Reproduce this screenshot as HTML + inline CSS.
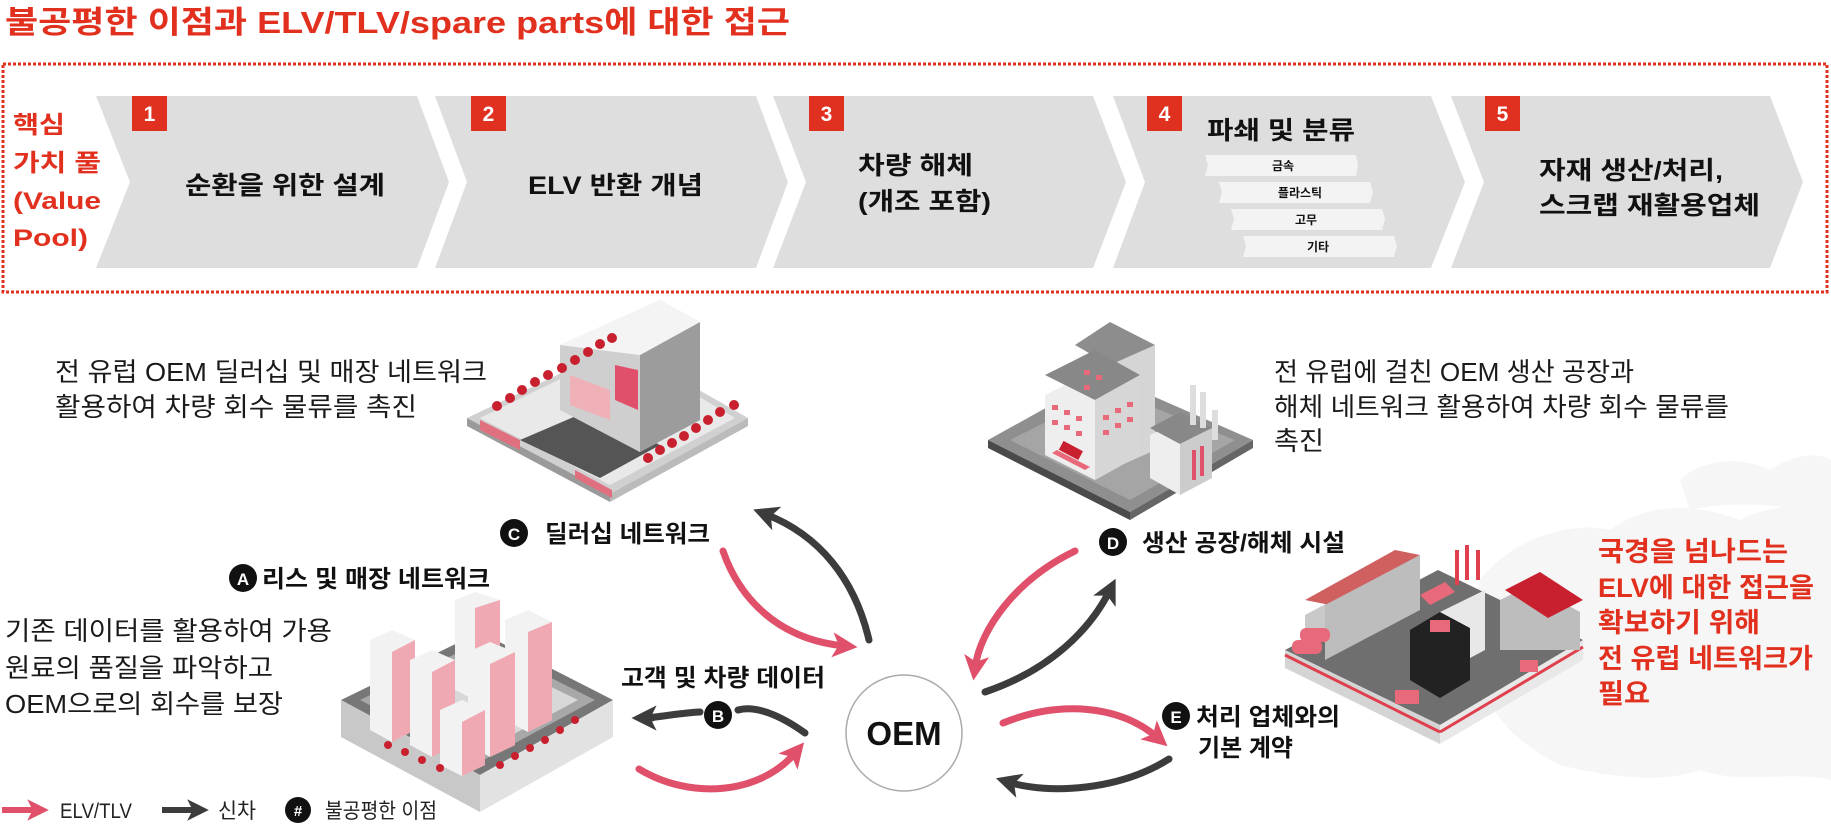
<!DOCTYPE html>
<html><head><meta charset="utf-8">
<style>
html,body{margin:0;padding:0;background:#fff;}
svg{display:block;}
text{font-family:"Liberation Sans","Noto Sans CJK KR",sans-serif;}
.b{font-weight:bold;}
</style></head>
<body>
<svg width="1831" height="835" viewBox="0 0 1831 835" xmlns="http://www.w3.org/2000/svg">
<defs>
<marker id="mp" viewBox="0 0 10 10" refX="5" refY="5" markerWidth="3.6" markerHeight="3.6" orient="auto" markerUnits="strokeWidth"><path d="M0,0 L10,5 L0,10 L2.5,5 z" fill="#e0506a"/></marker>
<marker id="md" viewBox="0 0 10 10" refX="5" refY="5" markerWidth="3.6" markerHeight="3.6" orient="auto" markerUnits="strokeWidth"><path d="M0,0 L10,5 L0,10 L2.5,5 z" fill="#3c3c3c"/></marker>
</defs>

<!-- Title -->
<text x="5" y="33" class="b" font-size="31" fill="#e2301f" textLength="785" lengthAdjust="spacingAndGlyphs">불공평한 이점과 ELV/TLV/spare parts에 대한 접근</text>

<!-- dotted box -->
<rect x="3" y="64" width="1824" height="228" fill="none" stroke="#e2301f" stroke-width="3" stroke-dasharray="3,2"/>

<!-- left label -->
<g class="b" font-size="24" fill="#e2301f">
<text x="13" y="133" textLength="52" lengthAdjust="spacingAndGlyphs">핵심</text>
<text x="13" y="171" textLength="88" lengthAdjust="spacingAndGlyphs">가치 풀</text>
<text x="13" y="209" textLength="88" lengthAdjust="spacingAndGlyphs">(Value</text>
<text x="13" y="246" textLength="75" lengthAdjust="spacingAndGlyphs">Pool)</text>
</g>

<!-- chevrons -->
<g fill="#dedede">
<polygon points="96,96 417,96 449,182 417,268 96,268 130,182"/>
<polygon points="435,96 756,96 788,182 756,268 435,268 467,182"/>
<polygon points="773,96 1093,96 1126,182 1093,268 773,268 806,182"/>
<polygon points="1113,96 1431,96 1465,182 1431,268 1113,268 1145,182"/>
<polygon points="1451,96 1770,96 1803,182 1770,268 1451,268 1484,182"/>
</g>
<g fill="#e03020">
<rect x="132" y="96" width="35" height="35"/>
<rect x="471" y="96" width="35" height="35"/>
<rect x="809" y="96" width="35" height="35"/>
<rect x="1147" y="96" width="35" height="35"/>
<rect x="1485" y="96" width="35" height="35"/>
</g>
<g class="b" font-size="21" fill="#fff" text-anchor="middle">
<text x="149.5" y="121">1</text><text x="488.5" y="121">2</text><text x="826.5" y="121">3</text><text x="1164.5" y="121">4</text><text x="1502.5" y="121">5</text>
</g>
<g class="b" font-size="25" fill="#111">
<text x="185" y="194" textLength="200" lengthAdjust="spacingAndGlyphs">순환을 위한 설계</text>
<text x="528" y="194" textLength="175" lengthAdjust="spacingAndGlyphs">ELV 반환 개념</text>
<text x="858" y="174" textLength="115" lengthAdjust="spacingAndGlyphs">차량 해체</text>
<text x="858" y="210" textLength="133" lengthAdjust="spacingAndGlyphs">(개조 포함)</text>
<text x="1207" y="139" textLength="148" lengthAdjust="spacingAndGlyphs">파쇄 및 분류</text>
<text x="1539" y="179" textLength="184" lengthAdjust="spacingAndGlyphs">자재 생산/처리,</text>
<text x="1539" y="214" textLength="221" lengthAdjust="spacingAndGlyphs">스크랩 재활용업체</text>
</g>
<g fill="#f3f3f3">
<polygon points="1205,155 1356,155 1358,165 1356,176 1205,176 1208,165"/>
<polygon points="1219,182 1370,182 1373,192 1370,203 1219,203 1222,192"/>
<polygon points="1231,209 1382,209 1385,219 1382,230 1231,230 1234,219"/>
<polygon points="1243,236 1394,236 1397,246 1394,257 1243,257 1246,246"/>
</g>
<g class="b" font-size="12" fill="#111" text-anchor="middle">
<text x="1283" y="170">금속</text><text x="1300" y="197">플라스틱</text><text x="1306" y="224">고무</text><text x="1318" y="251">기타</text>
</g>

<!-- europe map faint -->
<g fill="#f6f6f6">
<path d="M1480,580 C1510,540 1570,520 1610,530 C1650,500 1700,505 1740,520 C1780,500 1820,505 1831,515 L1831,780 C1790,770 1740,785 1700,770 C1660,785 1600,775 1560,765 C1520,745 1495,720 1485,690 C1475,650 1470,610 1480,580 z"/>
<path d="M1680,480 C1700,460 1740,455 1770,470 C1800,450 1825,455 1831,460 L1831,515 C1790,505 1730,500 1690,510 z"/>
</g>

<!-- top-left text -->
<g font-size="26" fill="#1a1a1a">
<text x="55" y="381" textLength="432" lengthAdjust="spacingAndGlyphs">전 유럽 OEM 딜러십 및 매장 네트워크</text>
<text x="55" y="416" textLength="362" lengthAdjust="spacingAndGlyphs">활용하여 차량 회수 물류를 촉진</text>
<text x="1274" y="381" textLength="360" lengthAdjust="spacingAndGlyphs">전 유럽에 걸친 OEM 생산 공장과</text>
<text x="1274" y="416" textLength="455" lengthAdjust="spacingAndGlyphs">해체 네트워크 활용하여 차량 회수 물류를</text>
<text x="1274" y="450" textLength="50" lengthAdjust="spacingAndGlyphs">촉진</text>
<text x="5" y="640" textLength="327" lengthAdjust="spacingAndGlyphs">기존 데이터를 활용하여 가용</text>
<text x="5" y="677" textLength="268" lengthAdjust="spacingAndGlyphs">원료의 품질을 파악하고</text>
<text x="5" y="713" textLength="278" lengthAdjust="spacingAndGlyphs">OEM으로의 회수를 보장</text>
</g>

<!-- red right text -->
<g class="b" font-size="27" fill="#e2301f">
<text x="1598" y="561" textLength="190" lengthAdjust="spacingAndGlyphs">국경을 넘나드는</text>
<text x="1598" y="597" textLength="216" lengthAdjust="spacingAndGlyphs">ELV에 대한 접근을</text>
<text x="1598" y="632" textLength="162" lengthAdjust="spacingAndGlyphs">확보하기 위해</text>
<text x="1598" y="668" textLength="215" lengthAdjust="spacingAndGlyphs">전 유럽 네트워크가</text>
<text x="1598" y="703" textLength="52" lengthAdjust="spacingAndGlyphs">필요</text>
</g>

<!-- Dealer illustration -->
<g>
<polygon points="467,418 620,345 748,418 610,494" fill="#d0d0d0"/>
<polygon points="467,418 610,494 610,502 467,426" fill="#9a9a9a"/>
<polygon points="610,494 748,418 748,426 610,502" fill="#bbb"/>
<polygon points="480,418 620,350 735,418 610,485" fill="#e9e9e9"/>
<polygon points="520,440 590,410 660,445 600,478" fill="#555"/>
<polygon points="560,345 660,300 700,322 700,420 640,452 560,410" fill="#e2e2e2"/>
<polygon points="640,355 700,322 700,420 640,452" fill="#9c9c9c"/>
<polygon points="560,345 640,355 640,452 560,410" fill="#cfcfcf"/>
<polygon points="560,345 660,300 700,322 640,355" fill="#f4f4f4"/>
<polygon points="615,365 638,370 638,410 615,400" fill="#e0506a"/>
<polygon points="570,375 610,390 610,420 570,405" fill="#f0b0b8"/>
<g fill="#c8202e">
<circle cx="612" cy="338" r="5"/><circle cx="600" cy="344" r="5"/><circle cx="588" cy="352" r="5"/><circle cx="575" cy="360" r="5"/><circle cx="562" cy="368" r="5"/><circle cx="548" cy="375" r="5"/><circle cx="535" cy="382" r="5"/><circle cx="522" cy="390" r="5"/><circle cx="510" cy="398" r="5"/><circle cx="497" cy="406" r="5"/>
<circle cx="648" cy="458" r="5"/><circle cx="660" cy="450" r="5"/><circle cx="672" cy="443" r="5"/><circle cx="684" cy="436" r="5"/><circle cx="696" cy="428" r="5"/><circle cx="708" cy="420" r="5"/><circle cx="720" cy="412" r="5"/><circle cx="734" cy="405" r="5"/>
</g>
<polygon points="480,420 520,440 520,450 480,430" fill="#e07080"/>
<polygon points="575,470 612,490 612,498 575,478" fill="#e07080"/>
</g>

<!-- Factory illustration -->
<g>
<polygon points="988,440 1105,375 1253,440 1130,512" fill="#8f8f8f"/>
<polygon points="988,440 1130,512 1130,520 988,448" fill="#4a4a4a"/>
<polygon points="1130,512 1253,440 1253,448 1130,520" fill="#666"/>
<polygon points="1010,440 1110,390 1235,440 1130,500" fill="#a5a5a5"/>
<polygon points="1075,360 1110,340 1155,360 1155,450 1110,470 1075,450" fill="#ebebeb"/>
<polygon points="1110,362 1155,345 1155,450 1110,470" fill="#d5d5d5"/>
<polygon points="1075,345 1110,322 1155,345 1110,365" fill="#8d8d8d"/>
<polygon points="1045,395 1095,370 1140,395 1140,455 1095,480 1045,455" fill="#eee"/>
<polygon points="1045,375 1095,350 1140,375 1095,400" fill="#888"/>
<polygon points="1095,400 1140,375 1140,455 1095,480" fill="#d6d6d6"/>
<g fill="#e86a7a">
<rect x="1052" y="405" width="6" height="5"/><rect x="1064" y="410" width="6" height="5"/><rect x="1076" y="416" width="6" height="5"/>
<rect x="1052" y="420" width="6" height="5"/><rect x="1064" y="425" width="6" height="5"/><rect x="1076" y="431" width="6" height="5"/>
<rect x="1084" y="370" width="6" height="5"/><rect x="1096" y="375" width="6" height="5"/><rect x="1084" y="385" width="6" height="5"/>
<rect x="1103" y="415" width="6" height="5"/><rect x="1115" y="408" width="6" height="5"/><rect x="1127" y="402" width="6" height="5"/>
<rect x="1103" y="430" width="6" height="5"/><rect x="1115" y="423" width="6" height="5"/><rect x="1127" y="417" width="6" height="5"/>
</g>
<polygon points="1150,435 1180,420 1212,435 1212,478 1180,495 1150,478" fill="#eee"/>
<polygon points="1150,428 1180,412 1212,428 1180,444" fill="#888"/>
<polygon points="1180,444 1212,428 1212,478 1180,495" fill="#ccc"/>
<rect x="1192" y="450" width="4" height="30" fill="#e0506a"/><rect x="1200" y="446" width="4" height="30" fill="#e0506a"/>
<rect x="1190" y="385" width="6" height="40" fill="#ddd"/><rect x="1200" y="392" width="6" height="36" fill="#ddd"/><rect x="1212" y="410" width="6" height="30" fill="#ddd"/>
<polygon points="1057,450 1090,467 1085,470 1052,453" fill="#e86a7a"/>
<rect x="1060" y="445" width="22" height="10" fill="#c8202e" transform="rotate(28 1070 450)"/>
</g>

<!-- City illustration -->
<g>
<polygon points="341,700 480,632 613,700 480,775" fill="#777"/>
<polygon points="341,700 480,775 480,812 341,737" fill="#c8c8c8"/>
<polygon points="480,775 613,700 613,737 480,812" fill="#e2e2e2"/>
<polygon points="360,700 480,642 595,700 480,762" fill="#a8a8a8"/>
<polygon points="378,700 480,652 578,700 480,752" fill="#d8d8d8"/>
<g>
<polygon points="455,600 475,592 500,600 500,690 475,700 455,690" fill="#f2f2f2"/><polygon points="475,608 500,600 500,690 475,700" fill="#f0a8b2"/>
<polygon points="505,620 528,610 552,622 552,720 528,732 505,720" fill="#f2f2f2"/><polygon points="528,632 552,622 552,720 528,732" fill="#f0a8b2"/>
<polygon points="370,640 392,630 415,640 415,730 392,742 370,730" fill="#f2f2f2"/><polygon points="392,652 415,640 415,730 392,742" fill="#f0a8b2"/>
<polygon points="410,660 432,650 455,660 455,745 432,757 410,745" fill="#f2f2f2"/><polygon points="432,672 455,660 455,745 432,757" fill="#f0a8b2"/>
<polygon points="468,652 490,642 515,652 515,745 490,757 468,745" fill="#f2f2f2"/><polygon points="490,664 515,652 515,745 490,757" fill="#f0a8b2"/>
<polygon points="440,710 462,700 485,710 485,765 462,776 440,765" fill="#f2f2f2"/><polygon points="462,722 485,710 485,765 462,776" fill="#f0a8b2"/>
</g>
<g fill="#c8202e">
<circle cx="388" cy="745" r="4"/><circle cx="405" cy="752" r="4"/><circle cx="422" cy="760" r="4"/><circle cx="440" cy="768" r="4"/><circle cx="500" cy="765" r="4"/><circle cx="515" cy="756" r="4"/><circle cx="530" cy="748" r="4"/><circle cx="545" cy="740" r="4"/><circle cx="560" cy="730" r="4"/><circle cx="575" cy="720" r="4"/>
</g>
</g>

<!-- Recycling illustration -->
<g>
<polygon points="1285,650 1438,570 1583,640 1440,725" fill="#6f6f6f"/>
<polygon points="1285,650 1440,725 1440,744 1285,668" fill="#d4d4d4"/>
<polygon points="1440,725 1583,640 1583,660 1440,744" fill="#e8e8e8"/>
<line x1="1285" y1="655" x2="1440" y2="732" stroke="#e0404e" stroke-width="3"/>
<line x1="1440" y1="732" x2="1583" y2="647" stroke="#e0404e" stroke-width="3"/>
<polygon points="1305,615 1395,567 1395,590 1320,635 1305,630" fill="#c9c9c9"/>
<polygon points="1305,600 1395,550 1420,555 1330,605" fill="#d06060"/>
<polygon points="1325,605 1420,555 1420,610 1325,660" fill="#bdbdbd"/>
<polygon points="1410,630 1440,612 1470,628 1470,680 1440,698 1410,680" fill="#222"/>
<polygon points="1440,612 1485,590 1485,650 1470,658 1470,628" fill="#e8e8e8"/>
<polygon points="1500,600 1530,585 1580,612 1580,650 1500,650" fill="#bdbdbd"/>
<polygon points="1505,590 1540,572 1583,600 1548,618" fill="#c8202e"/>
<rect x="1455" y="550" width="4" height="35" fill="#e0404e"/><rect x="1465" y="545" width="4" height="35" fill="#e0404e"/><rect x="1476" y="550" width="4" height="30" fill="#e0404e"/>
<g fill="#e86a7a">
<rect x="1292" y="640" width="30" height="14" rx="6"/><rect x="1300" y="628" width="30" height="14" rx="6"/>
<rect x="1395" y="690" width="24" height="14"/><rect x="1430" y="620" width="20" height="12"/><rect x="1520" y="660" width="18" height="12"/>
<polygon points="1420,595 1445,582 1455,592 1430,605"/>
</g>
</g>

<!-- Arrows -->
<g fill="none" stroke-width="7" stroke-linecap="round">
<path d="M723,551 C740,600 780,640 845,646" stroke="#e0506a" marker-end="url(#mp)"/>
<path d="M869,640 C855,580 820,535 765,514" stroke="#3c3c3c" marker-end="url(#md)"/>
<path d="M805,733 C780,715 755,705 738,710 M700,712 C680,713 660,717 645,718" stroke="#3c3c3c"/>
<path d="M652,718 L644,718" stroke="#3c3c3c" marker-end="url(#md)"/>
<path d="M639,769 C690,800 760,795 796,752" stroke="#e0506a" marker-end="url(#mp)"/>
<path d="M1075,551 C1015,580 980,630 975,668" stroke="#e0506a" marker-end="url(#mp)"/>
<path d="M985,692 C1050,670 1090,630 1110,590" stroke="#3c3c3c" marker-end="url(#md)"/>
<path d="M1003,723 C1060,700 1120,705 1158,738" stroke="#e0506a" marker-end="url(#mp)"/>
<path d="M1169,759 C1120,790 1050,795 1008,782" stroke="#3c3c3c" marker-end="url(#md)"/>
</g>

<!-- OEM circle -->
<circle cx="904" cy="733" r="58" fill="#fff" stroke="#aaa" stroke-width="1.5"/>
<text x="904" y="745" class="b" font-size="33" fill="#111" text-anchor="middle">OEM</text>

<!-- Letter badges and labels -->
<g>
<circle cx="514" cy="533" r="14" fill="#111"/><text x="514" y="540" class="b" font-size="17" fill="#fff" text-anchor="middle">C</text>
<text x="545" y="542" class="b" font-size="24" fill="#111" textLength="165" lengthAdjust="spacingAndGlyphs">딜러십 네트워크</text>
<circle cx="243" cy="578" r="14" fill="#111"/><text x="243" y="585" class="b" font-size="17" fill="#fff" text-anchor="middle">A</text>
<text x="262" y="587" class="b" font-size="24" fill="#111" textLength="228" lengthAdjust="spacingAndGlyphs">리스 및 매장 네트워크</text>
<text x="621" y="686" class="b" font-size="24" fill="#111" textLength="204" lengthAdjust="spacingAndGlyphs">고객 및 차량 데이터</text>
<circle cx="718" cy="715" r="14" fill="#111"/><text x="718" y="722" class="b" font-size="17" fill="#fff" text-anchor="middle">B</text>
<circle cx="1113" cy="542" r="14" fill="#111"/><text x="1113" y="549" class="b" font-size="17" fill="#fff" text-anchor="middle">D</text>
<text x="1142" y="551" class="b" font-size="24" fill="#111" textLength="203" lengthAdjust="spacingAndGlyphs">생산 공장/해체 시설</text>
<circle cx="1176" cy="716" r="14" fill="#111"/><text x="1176" y="723" class="b" font-size="17" fill="#fff" text-anchor="middle">E</text>
<text x="1196" y="725" class="b" font-size="24" fill="#111" textLength="144" lengthAdjust="spacingAndGlyphs">처리 업체와의</text>
<text x="1198" y="756" class="b" font-size="24" fill="#111" textLength="95" lengthAdjust="spacingAndGlyphs">기본 계약</text>
</g>

<!-- Legend -->
<g>
<path d="M2,810 L38,810" stroke="#e0506a" stroke-width="6" marker-end="url(#mp)"/>
<text x="60" y="818" font-size="21" fill="#222" textLength="72" lengthAdjust="spacingAndGlyphs">ELV/TLV</text>
<path d="M162,810 L198,810" stroke="#3c3c3c" stroke-width="6" marker-end="url(#md)"/>
<text x="218" y="818" font-size="21" fill="#222" textLength="38" lengthAdjust="spacingAndGlyphs">신차</text>
<circle cx="298" cy="810" r="13" fill="#111"/><text x="298" y="816" class="b" font-size="15" fill="#fff" text-anchor="middle">#</text>
<text x="325" y="818" font-size="21" fill="#222" textLength="112" lengthAdjust="spacingAndGlyphs">불공평한 이점</text>
</g>
</svg>
</body></html>
